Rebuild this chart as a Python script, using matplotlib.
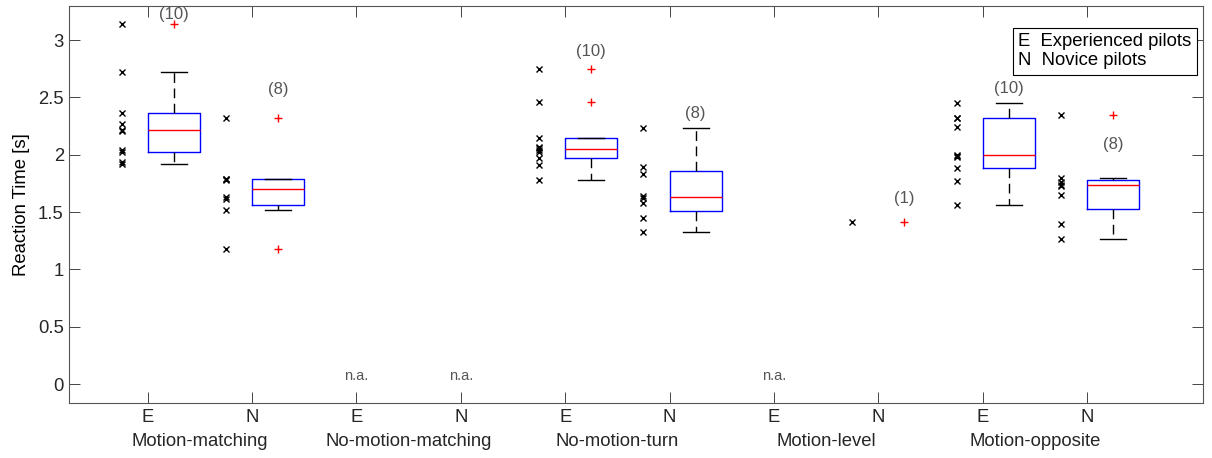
import numpy as np
import matplotlib
matplotlib.use("Agg")
import matplotlib.pyplot as plt
from matplotlib.lines import Line2D
from matplotlib.transforms import blended_transform_factory

# conditions and pilot groups
conditions = ["Motion-matching", "No-motion-matching", "No-motion-turn",
              "Motion-level", "Motion-opposite"]
groups = ["E", "N"]

# reaction times [s], one list per condition / group (empty = n.a.)
rt_mm_e = [3.14, 2.72, 2.36, 2.27, 2.22, 2.21, 2.04, 2.02, 1.94, 1.92]
rt_mm_n = [2.32, 1.79, 1.79, 1.78, 1.63, 1.61, 1.52, 1.18]
rt_nmm_e = []
rt_nmm_n = []
rt_nmt_e = [2.75, 2.46, 2.15, 2.07, 2.06, 2.04, 2.02, 1.97, 1.91, 1.78]
rt_nmt_n = [2.235, 1.89, 1.83, 1.64, 1.62, 1.575, 1.45, 1.33]
rt_ml_e = []
rt_ml_n = [1.415]
rt_mo_e = [2.45, 2.32, 2.317, 2.24, 2.00, 1.99, 1.98, 1.887, 1.775, 1.56]
rt_mo_n = [2.35, 1.80, 1.76, 1.74, 1.73, 1.652, 1.40, 1.265]

# where the "(n)" labels sit (value axis)
n_label_y = [3.22, 2.57, None, None, 2.90, 2.36, None, 1.62, 2.58, 2.09]

all_rt = [rt_mm_e, rt_mm_n, rt_nmm_e, rt_nmm_n, rt_nmt_e, rt_nmt_n,
          rt_ml_e, rt_ml_n, rt_mo_e, rt_mo_n]

plt.rcParams["font.family"] = ["Liberation Sans", "DejaVu Sans"]
plt.rcParams["font.size"] = 13.3
AX_COL = "#262626"


def matlab_stats(vals):
    # quartiles like MATLAB's prctile, whiskers at 1.5 IQR
    v = np.sort(np.asarray(vals, dtype=float))
    q1, med, q3 = np.percentile(v, [25, 50, 75], method="hazen")
    iqr = q3 - q1
    lo = v[v >= q1 - 1.5 * iqr].min()
    hi = v[v <= q3 + 1.5 * iqr].max()
    fl = v[(v < lo) | (v > hi)]
    return dict(med=med, q1=q1, q3=q3, whislo=lo, whishi=hi, fliers=fl)


fig = plt.figure(figsize=(12.12, 4.58), dpi=100)
ax = fig.add_axes([0.0572, 0.120, 0.9354, 0.8676])

pos = np.arange(1, len(all_rt) + 1)
gray = "#555555"

for p, vals, ly in zip(pos, all_rt, n_label_y):
    if len(vals) == 0:
        ax.text(p, 0.07, "n.a.", ha="center", va="center", fontsize=10.5, color=gray)
        continue
    ax.plot(np.full(len(vals), p - 0.25), vals, "x", color="k", markersize=4.5, mew=1.0)
    if len(vals) == 1:
        ax.plot([p + 0.25], vals, "+", color="red", markersize=6, mew=1.0)
    else:
        st = matlab_stats(vals)
        ax.bxp([st], positions=[p + 0.25], widths=0.5, capwidths=0.25,
               boxprops=dict(color="blue", linewidth=1.0),
               medianprops=dict(color="red", linewidth=1.0),
               whiskerprops=dict(color="k", linewidth=1.0, linestyle=(0, (7, 4))),
               capprops=dict(color="k", linewidth=1.0),
               flierprops=dict(marker="+", markeredgecolor="red", markersize=6,
                               markeredgewidth=1.0, linestyle="none"),
               manage_ticks=False)
    if ly is not None:
        ax.text(p + 0.25, ly, f"({len(vals)})", ha="center", va="center",
                fontsize=12, color=gray)

ax.set_xlim(0.25, 11.11)
ax.set_ylim(-0.165, 3.30)
ax.set_xticks(pos)
ax.set_xticklabels(groups * len(conditions))
yt = np.arange(0, 3.01, 0.5)
ax.set_yticks(yt)
ax.set_yticklabels([f"{v:g}" for v in yt])
ax.set_ylabel("Reaction Time [s]", labelpad=6)

ax.tick_params(direction="in", top=True, right=True, length=8, width=0.6,
               colors=AX_COL, pad=4)
for s in ax.spines.values():
    s.set_color("#555555")
    s.set_linewidth(0.8)

trans = blended_transform_factory(ax.transData, ax.transAxes)
for i, name in enumerate(conditions):
    ax.text(pos[2 * i] + 0.5, -0.096, name, transform=trans, ha="center",
            va="center", color=AX_COL)

handles = [Line2D([], [], linestyle="none") for _ in groups]
leg = ax.legend(handles, ["E  Experienced pilots", "N  Novice pilots"],
                loc="upper right", bbox_to_anchor=(0.9947, 0.944),
                borderaxespad=0, handlelength=0, handletextpad=0,
                borderpad=0.3, labelspacing=0.1, fancybox=False,
                framealpha=1, edgecolor="k")
leg.get_frame().set_linewidth(0.8)

fig.savefig("out.png", dpi=100)
